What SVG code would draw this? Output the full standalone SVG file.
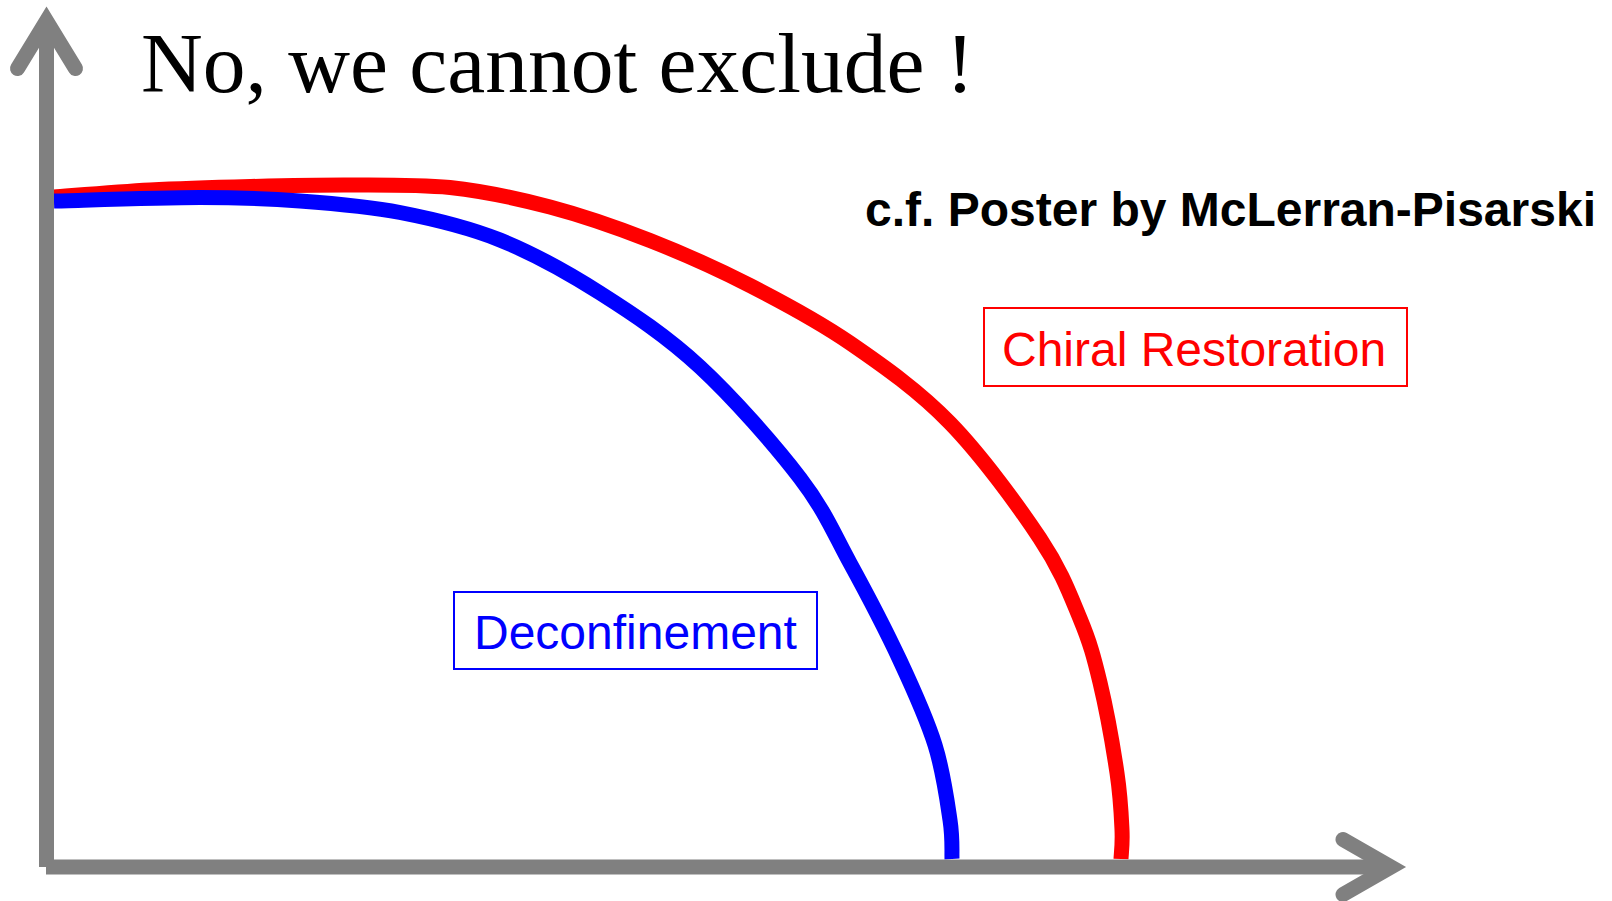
<svg xmlns="http://www.w3.org/2000/svg" width="1612" height="901" viewBox="0 0 1612 901">
<style>
.axis{fill:none;stroke:#808080;stroke-width:15}
.head{fill:none;stroke:#808080;stroke-width:15;stroke-linecap:round;stroke-linejoin:miter;stroke-miterlimit:10}
.curve{fill:none;stroke-width:15;stroke-linecap:butt;stroke-linejoin:round}
.lbl{font-family:"Liberation Sans",Arial,sans-serif;font-size:48px}
.box{fill:#fff;stroke-width:2}
</style>
<rect width="1612" height="901" fill="#fff"/>
<g id="connectors">
<path id="chiral-curve" class="curve" stroke="#ff0000" d="M54,197 C70,195.83 117.33,191.75 150,190 C182.67,188.25 216.67,187.33 250,186.5 C283.33,185.67 316.67,184.83 350,185 C383.33,185.17 416.67,184.5 450,187.5 C483.33,191.17 516.67,198.17 550,207 C583.33,215.83 616.67,227.42 650,240.5 C683.33,253.58 716.67,268.42 750,285.5 C783.33,302.58 816.67,320.08 850,343 C883.33,365.92 918.33,390.42 950,423 C981.67,455.58 1018.33,505.92 1040,538.5 C1061.67,571.08 1070,594.5 1080,618.5 C1090,642.5 1093.83,656.75 1100,682.5 C1106.17,708.25 1113.33,748.42 1117,773 C1120.67,797.58 1121.33,815.67 1122,830 C1122.67,844.33 1121.17,854.17 1121,859"/>
<path id="deconf-curve" class="curve" stroke="#0000ff" d="M54,201 C78.33,200.42 159,197.5 200,197.5 C241,197.5 266.67,198.5 300,201 C333.33,203.5 366.67,206 400,212.5 C433.33,219 466.67,226.58 500,240 C533.33,253.42 566.67,271.83 600,293 C633.33,314.17 666.67,336.17 700,367 C733.33,397.83 775,445.33 800,478 C825,510.67 833.33,532.58 850,563 C866.67,593.42 885.83,630.17 900,660.5 C914.17,690.83 926.67,718.42 935,745 C943.33,771.58 947.17,801 950,820 C952.83,839 951.67,852.5 952,859"/>
<line class="axis" x1="46.5" y1="22" x2="46.5" y2="867"/>
<line class="axis" x1="46" y1="867" x2="1390" y2="867"/>
<polyline class="head" points="17.5,68.5 46.5,21 75.5,68.5"/>
<polyline class="head" points="1343,839.5 1391,867 1343,894.5"/>
</g>
<g id="title">
<text x="141" y="92" font-family="'Liberation Serif','Times New Roman',serif" font-size="85.5" fill="#000">No, we cannot exclude !</text>
</g>
<g id="reference-note">
<text x="865" y="226" font-family="'Liberation Sans',Arial,sans-serif" font-size="48" font-weight="bold" fill="#000">c.f. Poster by McLerran-Pisarski</text>
</g>
<g id="chiral-label">
<rect class="box" x="984" y="308" width="423" height="78" stroke="#ff0000"/>
<text class="lbl" x="1002" y="366" fill="#ff0000">Chiral Restoration</text>
</g>
<g id="deconf-label">
<rect class="box" x="454" y="592" width="363" height="77" stroke="#0000ff"/>
<text class="lbl" x="474" y="649" fill="#0000ff">Deconfinement</text>
</g>
</svg>
